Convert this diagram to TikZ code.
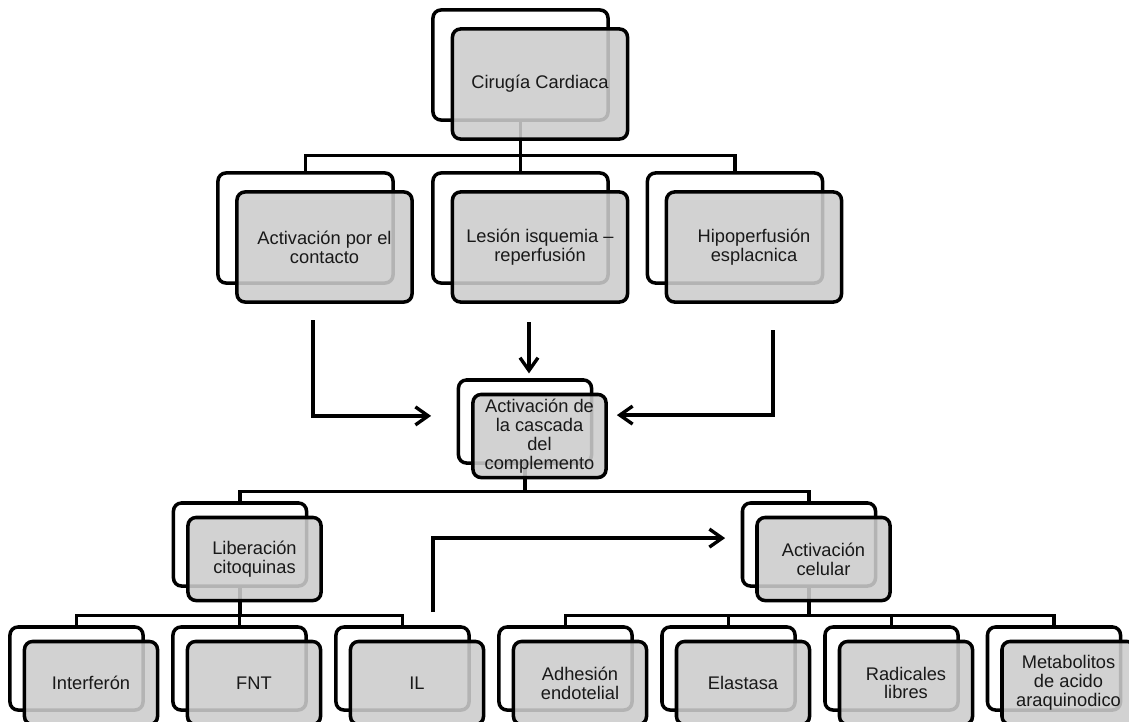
\documentclass[tikz,border=0pt]{standalone}
\usepackage{fontspec}
\setmainfont{Liberation Sans}
\usetikzlibrary{arrows.meta, backgrounds, calc}
\tikzset{
	backbox/.style={
			draw=black,
			line width=2.5pt,
			fill=white,
			rounded corners=0.2cm,
			inner sep=0pt
		},
	bigback/.style={
			backbox,
			minimum width=4.375cm,
			minimum height=2.75cm
		},
	smallback/.style={
			backbox,
			minimum width=3.325cm,
			minimum height=2.075cm
		},
	frontbox/.style={
			draw=black,
			line width=2.5pt,
			fill=black!20,
			fill opacity=0.88,
			text opacity=1,
			text=black!90,
			rounded corners=0.2cm,
			align=center,
			inner sep=1pt,
			font=\fontsize{13}{13.4}\selectfont
		},
	bigfront/.style={
			frontbox,
			minimum width=4.375cm,
			minimum height=2.75cm
		},
	smallfront/.style={
			frontbox,
			minimum width=3.325cm,
			minimum height=2.075cm
		}
}
\tikzset{
	connector/.style={line width=2.4pt}
}
\tikzset{
	arrowline/.style={line width=2.4pt, -{Straight Barb[length=0.32cm, width=0.45cm]}}
}
\begin{document}
\begin{tikzpicture}[x=0.025cm, y=-0.025cm]
\path[use as bounding box, clip] (0,0) rectangle (1129,722);

% back boxes
\node[bigback] (cirugiab) at (520.5,65) {};
\node[bigback] (contactob) at (305.5,228) {};
\node[bigback] (lesionb) at (520.5,228) {};
\node[bigback] (hipob) at (735,228) {};
\node[smallback] (cascadab) at (525,421.5) {};
\node[smallback] (liberacionb) at (240,544.5) {};
\node[smallback] (celularb) at (809,544.5) {};
\node[smallback] (interferonb) at (76.5,668.5) {};
\node[smallback] (fntb) at (239.5,668.5) {};
\node[smallback] (ilb) at (402.5,668.5) {};
\node[smallback] (adhesionb) at (565.5,668.5) {};
\node[smallback] (elastasab) at (728.5,668.5) {};
\node[smallback] (radicalesb) at (891.5,668.5) {};
\node[smallback] (metabolitosb) at (1054,668.5) {};

% front boxes
\node[bigfront] (cirugia) at (540,84) {Cirugía Cardiaca};
\node[bigfront] (contacto) at (324.5,247) {Activación por el\\contacto};
\node[bigfront] (lesion) at (540,247) {Lesión isquemia –\\reperfusión};
\node[bigfront] (hipo) at (754,247) {Hipoperfusión\\esplacnica};
\node[smallfront] (cascada) at (539.5,436) {Activación de\\la cascada\\del\\complemento};
\node[smallfront] (liberacion) at (254.5,559) {Liberación\\citoquinas};
\node[smallfront] (celular) at (823.5,559) {Activación\\celular};
\node[smallfront] (interferon) at (91,683) {Interferón};
\node[smallfront] (fnt) at (254,683) {FNT};
\node[smallfront] (il) at (417,683) {IL};
\node[smallfront] (adhesion) at (580,683) {Adhesión\\endotelial};
\node[smallfront] (elastasa) at (743,683) {Elastasa};
\node[smallfront] (radicales) at (906,683) {Radicales\\libres};
\node[smallfront] (metabolitos) at (1068.5,683) {Metabolitos\\de acido\\araquinodico};

% tree lines
\begin{scope}[on background layer]
\draw[connector] (cirugiab.south) -- ++(0,34) -| (contactob.north);
\draw[connector] (cirugiab.south) -- (lesionb.north);
\draw[connector] (cirugiab.south) -- ++(0,34) -| (hipob.north);
\draw[connector] (cascadab.south) -- ++(0,27) -| (liberacionb.north);
\draw[connector] (cascadab.south) -- ++(0,27) -| (celularb.north);
\foreach \k in {interferonb, fntb, ilb}
  \draw[connector] (liberacionb.south) -- ++(0,28) -| (\k.north);
\foreach \k in {adhesionb, elastasab, radicalesb, metabolitosb}
  \draw[connector] (celularb.south) -- ++(0,28) -| (\k.north);
\end{scope}

% arrows into the cascade
\coordinate (in1) at (313,320);
\coordinate (in2) at (529,322);
\coordinate (in3) at (773,330);
\coordinate (out1) at (433,612);
\draw[arrowline, shorten >=0.64cm] (in1) |- ([yshift=0.14cm]cascadab.west);
\draw[arrowline, shorten >=0.12cm] (in2) -- (in2 |- cascadab.north);
\draw[arrowline, shorten >=0.59cm] (in3) |- ([yshift=0.16cm]cascadab.east);
\draw[arrowline, shorten >=0.39cm] (out1) |- ([yshift=0.16cm]celularb.west);
\end{tikzpicture}
\end{document}
